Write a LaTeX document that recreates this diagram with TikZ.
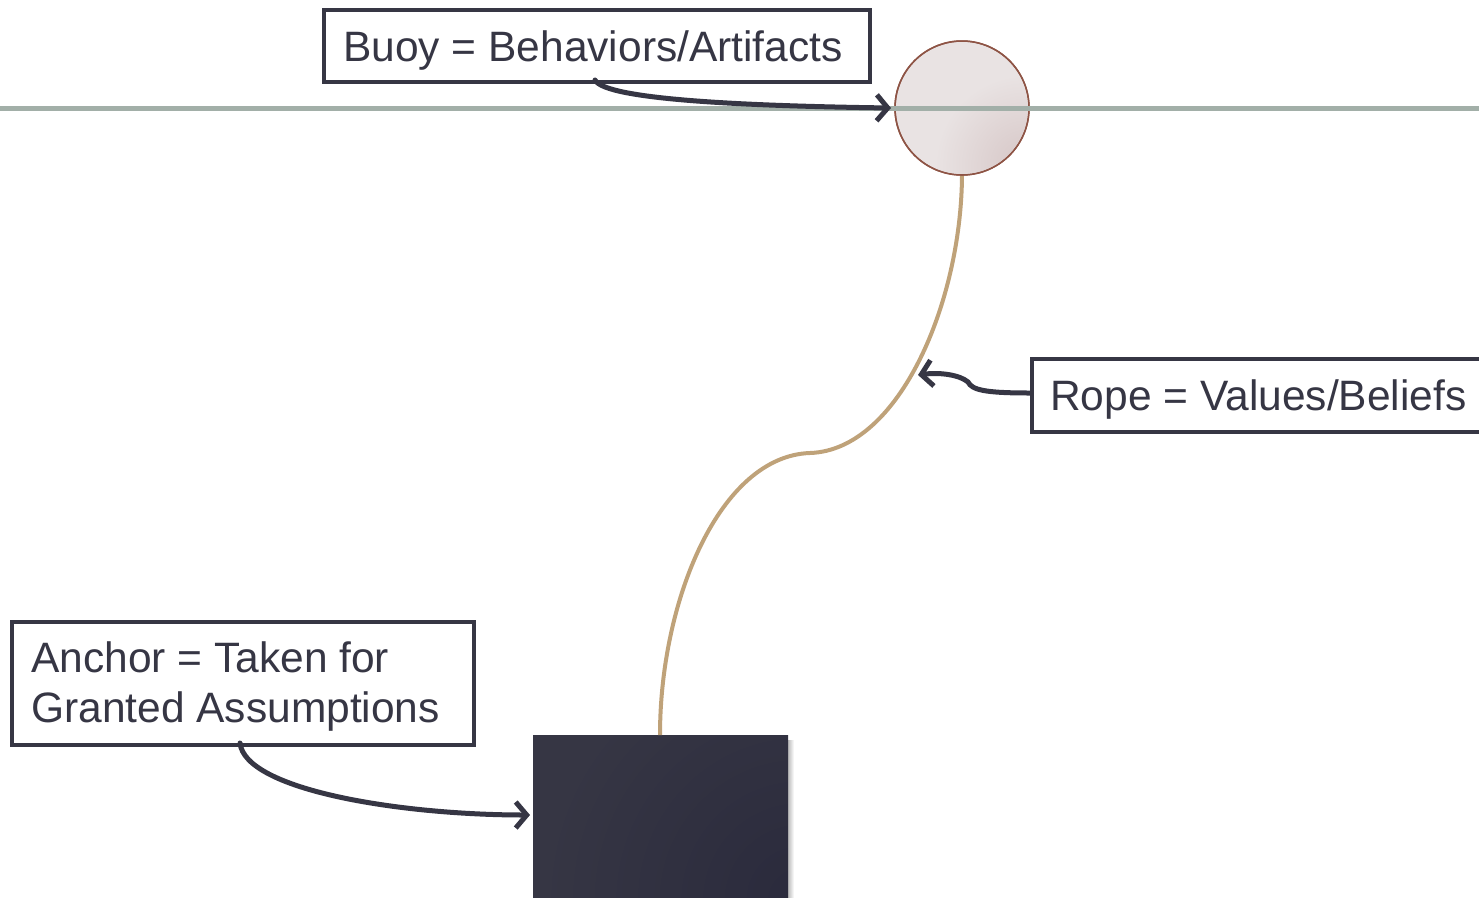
\documentclass[tikz,border=0pt]{standalone}
\usepackage{fontspec}
\setmainfont{Liberation Sans}
\usetikzlibrary{arrows.meta,shadows}
\definecolor{ink}{HTML}{363644}
\definecolor{inkdark}{HTML}{2A2A3C}
\definecolor{sea}{HTML}{A2AFA8}
\definecolor{ropec}{HTML}{BFA279}
\definecolor{buoyfill}{HTML}{E9E3E3}
\definecolor{buoydark}{HTML}{D6C6C6}
\definecolor{buoyedge}{HTML}{8E5445}
\tikzset{
  x=1pt,y=-1pt,
  label box/.style={draw=ink,line width=4pt,fill=white,inner sep=0pt,anchor=north west},
  label text/.style={font=\fontsize{42.5}{50}\selectfont,text=ink,anchor=base west,inner sep=0pt},
  pointer/.style={draw=ink,line width=5pt,line cap=round,-{Straight Barb[length=11pt,width=26pt,line width=5pt]}},
}
\begin{document}
\begin{tikzpicture}
\useasboundingbox (0,0) rectangle (1479,897);
% anchor block with soft right shadow
\shade[left color=gray!70,right color=white] (786,740) rectangle (794,897);
\node[draw=none,fill=ink,inner sep=0pt,minimum width=255pt,minimum height=170pt,anchor=north west] (anchor) at (533,735) {};
\begin{scope}
  \clip (533,735) rectangle (788,897);
  \shade[inner color=inkdark,outer color=ink] (800,900) circle (260pt);
\end{scope}
% rope
\coordinate (ropetop) at (962,173);
\coordinate (ropebot) at (660,735);
\draw[ropec,line width=4pt] (ropetop) .. controls (962,300) and (900,450) .. (810,453)
  .. controls (720,456) and (660,600) .. (ropebot);
% buoy
\node[circle,draw=buoyedge,line width=1.5pt,minimum size=134pt,inner sep=0pt,fill=buoyfill] (buoy) at (962,108) {};
\begin{scope}
  \clip (962,108) circle (66pt);
  \shade[inner color=buoydark,outer color=buoyfill] (1025,165) circle (90pt);
\end{scope}
\draw[buoyedge,line width=1.5pt] (962,108) circle (67pt);
% water line
\coordinate (wl) at (0,108);
\coordinate (wr) at (1479,108);
\draw[sea,line width=5pt] (wl) -- (wr);
% labels
\node[label box,minimum width=546pt,minimum height=72pt] (lbuoy) at (322,8) {};
\node[label text] (tbuoy) at (343,61) {Buoy = Behaviors/Artifacts};
\node[label box,minimum width=470pt,minimum height=73pt] (lrope) at (1030,357) {};
\node[label text] (trope) at (1050,410) {Rope = Values/Beliefs};
\node[label box,minimum width=462pt,minimum height=123pt] (lanchor) at (10,620) {};
\node[label text] (tanchor1) at (31,672) {Anchor = Taken for};
\node[label text] (tanchor2) at (31,722) {Granted Assumptions};
% pointers
\coordinate (bp) at (595,80);
\coordinate (bt) at (891,108);
\draw[pointer] (bp) .. controls (605,100) and (750,106) .. (bt);
\coordinate (rp) at (1030,393);
\coordinate (rt) at (918,375);
\draw[pointer] (rp) .. controls (985,393) and (972,390) .. (968,382) .. controls (960,375) and (940,372) .. (rt);
\coordinate (ap) at (240,743);
\coordinate (at) at (530,815);
\draw[pointer] (ap) .. controls (245,790) and (400,815) .. (at);
\end{tikzpicture}
\end{document}
